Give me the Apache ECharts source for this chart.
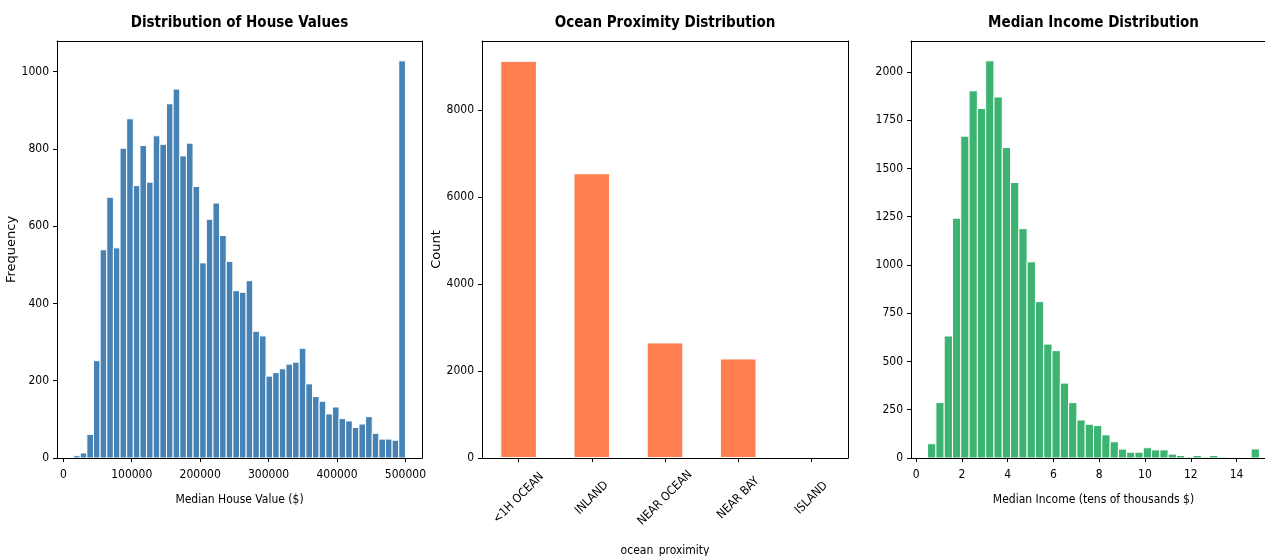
<!DOCTYPE html>
<html><head><meta charset="utf-8">
<script src="https://cdn.jsdelivr.net/npm/echarts@6/dist/echarts.min.js"></script>
<style>html,body{margin:0;padding:0;background:#fff;overflow:hidden}#c{width:1265px;height:556px;}</style>
</head><body><div id="c"></div>
<script>
// ---- data ----
const houseValueRange = [14999, 500001];
const houseCounts = [6, 13, 61, 252, 539, 675, 544, 802, 878, 705, 809, 714, 834, 812, 917, 955, 782, 815, 703, 505,
  618, 660, 576, 509, 433, 429, 459, 328, 316, 212, 221, 231, 243, 248, 284, 192, 159, 147, 114, 132,
  102, 96, 79, 88, 107, 64, 49, 49, 46, 1028];
const houseTicks = [0, 100000, 200000, 300000, 400000, 500000];
const houseFreqTicks = [0, 200, 400, 600, 800, 1000];

const oceanCategories = ['<1H OCEAN', 'INLAND', 'NEAR OCEAN', 'NEAR BAY', 'ISLAND'];
const oceanCounts = [9136, 6551, 2658, 2290, 5];
const oceanCountTicks = [0, 2000, 4000, 6000, 8000];

const incomeRange = [0.4999, 15.0001];
const incomeCounts = [74, 287, 632, 1242, 1667, 1902, 1810, 2057, 1870, 1608, 1427, 1188, 1016, 810, 590, 556, 388, 287, 197, 175,
  168, 120, 84, 46, 30, 30, 53, 42, 42, 20, 13, 5, 13, 5, 13, 5, 2, 1, 1, 47];
const incomeTicks = [0, 2, 4, 6, 8, 10, 12, 14];
const incomeFreqTicks = [0, 250, 500, 750, 1000, 1250, 1500, 1750, 2000];

const titles = ['Distribution of House Values', 'Ocean Proximity Distribution', 'Median Income Distribution'];

// ---- helpers ----
function bins(range, counts) {
  const n = counts.length, w = (range[1] - range[0]) / n;
  return counts.map((c, i) => [range[0] + i * w, range[0] + (i + 1) * w, c]);
}
function padded(range) {
  const m = 0.05 * (range[1] - range[0]);
  return [range[0] - m, range[1] + m];
}
const ymax = arr => Math.max.apply(null, arr) * 1.05;

const TICK_FONT = 'DejaVu Sans Condensed';
const tickLabel = {color: '#000', fontFamily: TICK_FONT, fontSize: 12, margin: 8, formatter: v => String(v)};
const xTickLabel = Object.assign({}, tickLabel, {margin: 11});
const axisLine = {show: true, onZero: false, lineStyle: {color: '#000', width: 1}};
const axisTick = {show: true, length: 4, lineStyle: {color: '#000', width: 1}};

function histRender(color) {
  return function (params, api) {
    const p0 = api.coord([api.value(0), 0]);
    const p1 = api.coord([api.value(1), api.value(2)]);
    return {
      type: 'rect',
      shape: {x: p0[0], y: p1[1], width: p1[0] - p0[0], height: p0[1] - p1[1]},
      style: {fill: color, stroke: '#fff', lineWidth: 1}
    };
  };
}

const houseX = padded(houseValueRange);
const incomeX = padded(incomeRange);

const grids = [
  {left: 57, top: 41, width: 365, height: 417},
  {left: 482, top: 41, width: 366, height: 417},
  {left: 911, top: 41, width: 365, height: 417}
].map(g => Object.assign(g, {show: false, containLabel: false, outerBoundsMode: 'none'}));

// top spines (carrying the subplot titles) and right spines
const titleAxes = titles.map((t, i) => ({
  type: 'value', gridIndex: i, position: 'top', min: 0, max: 1, z: 5,
  axisLine: {show: true, onZero: false, lineStyle: {color: '#000', width: 1}},
  axisTick: {show: false}, axisLabel: {show: false}, splitLine: {show: false},
  name: t, nameLocation: 'middle', nameGap: 10,
  nameTextStyle: {fontFamily: TICK_FONT, fontWeight: 'bold', fontSize: 15, color: '#000'}
}));
const rightSpines = [0, 1, 2].map(i => ({
  type: 'value', gridIndex: i, position: 'right', min: 0, max: 1, z: 5,
  axisLine: {show: true, onZero: false, lineStyle: {color: '#000', width: 1}},
  axisTick: {show: false}, axisLabel: {show: false}, splitLine: {show: false}
}));

const option = {
  backgroundColor: '#fff',
  animation: false,
  grid: grids,
  xAxis: [
    {
      type: 'value', gridIndex: 0, min: houseX[0], max: houseX[1], z: 5,
      axisLine, axisTick: Object.assign({customValues: houseTicks}, axisTick),
      axisLabel: Object.assign({customValues: houseTicks}, xTickLabel),
      splitLine: {show: false},
      name: 'Median House Value ($)', nameLocation: 'middle', nameGap: 36,
      nameTextStyle: {fontFamily: TICK_FONT, fontSize: 12, color: '#000'}
    },
    {
      type: 'category', gridIndex: 1, data: oceanCategories, boundaryGap: true, z: 5,
      axisLine, axisTick: Object.assign({alignWithLabel: true}, axisTick),
      axisLabel: {color: '#000', fontFamily: TICK_FONT, fontSize: 12, rotate: 45, align: 'center', verticalAlign: 'middle', margin: 40, interval: 0},
      splitLine: {show: false},
      name: 'ocean_proximity', nameLocation: 'middle', nameGap: 87,
      nameTextStyle: {fontFamily: TICK_FONT, fontSize: 12, color: '#000'}
    },
    {
      type: 'value', gridIndex: 2, min: incomeX[0], max: incomeX[1], z: 5,
      axisLine, axisTick: Object.assign({customValues: incomeTicks}, axisTick),
      axisLabel: Object.assign({customValues: incomeTicks}, xTickLabel),
      splitLine: {show: false},
      name: 'Median Income (tens of thousands $)', nameLocation: 'middle', nameGap: 36,
      nameTextStyle: {fontFamily: TICK_FONT, fontSize: 12, color: '#000'}
    }
  ].concat(titleAxes),
  yAxis: [
    {
      type: 'value', gridIndex: 0, min: 0, max: ymax(houseCounts), z: 5,
      axisLine, axisTick: Object.assign({customValues: houseFreqTicks}, axisTick),
      axisLabel: Object.assign({customValues: houseFreqTicks}, tickLabel),
      splitLine: {show: false},
      name: 'Frequency', nameLocation: 'middle', nameGap: 34,
      nameTextStyle: {fontFamily: 'DejaVu Sans', fontSize: 13, color: '#000'}
    },
    {
      type: 'value', gridIndex: 1, min: 0, max: ymax(oceanCounts), z: 5,
      axisLine, axisTick: Object.assign({customValues: oceanCountTicks}, axisTick),
      axisLabel: Object.assign({customValues: oceanCountTicks}, tickLabel),
      splitLine: {show: false},
      name: 'Count', nameLocation: 'middle', nameGap: 34,
      nameTextStyle: {fontFamily: 'DejaVu Sans', fontSize: 13, color: '#000'}
    },
    {
      type: 'value', gridIndex: 2, min: 0, max: ymax(incomeCounts), z: 5,
      axisLine, axisTick: Object.assign({customValues: incomeFreqTicks}, axisTick),
      axisLabel: Object.assign({customValues: incomeFreqTicks}, tickLabel),
      splitLine: {show: false}
    }
  ].concat(rightSpines),
  series: [
    {
      type: 'custom', xAxisIndex: 0, yAxisIndex: 0,
      data: bins(houseValueRange, houseCounts),
      encode: {x: [0, 1], y: 2},
      renderItem: histRender('#4682B4')
    },
    {
      type: 'bar', xAxisIndex: 1, yAxisIndex: 1,
      data: oceanCounts, barWidth: '50%',
      itemStyle: {color: '#FF7F50', borderColor: '#fff', borderWidth: 1}
    },
    {
      type: 'custom', xAxisIndex: 2, yAxisIndex: 2,
      data: bins(incomeRange, incomeCounts),
      encode: {x: [0, 1], y: 2},
      renderItem: histRender('#3CB371')
    }
  ]
};

const chart = echarts.init(document.getElementById('c'), null, {renderer: 'canvas'});
chart.setOption(option);
</script>
</body></html>
